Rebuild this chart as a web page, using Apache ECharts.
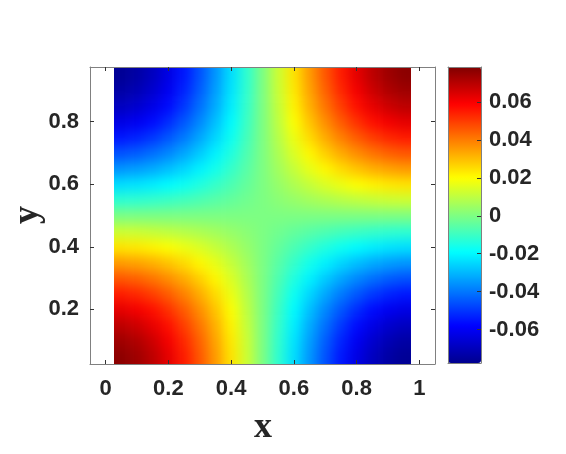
<!DOCTYPE html>
<html>
<head>
<meta charset="utf-8">
<script src="https://cdn.jsdelivr.net/npm/echarts@6/dist/echarts.min.js"></script>
<style>
    html, body { margin: 0; padding: 0; background: #fff; }
    #wrap { position: relative; width: 566px; height: 454px; }
    #clip { position: absolute; overflow: hidden; }
    #heat { position: absolute; width: 566px; height: 454px; filter: blur(6px); }
    #chart { position: absolute; left: 0; top: 0; width: 566px; height: 454px; }
</style>
</head>
<body>
<div id="wrap">
    <div id="clip"><div id="heat"></div></div>
    <div id="chart"></div>
</div>
<script>
// cell centres (x and y), width of one cell
var xCenters = [0.05, 0.10, 0.15, 0.20, 0.25, 0.30, 0.35, 0.40, 0.45, 0.50, 0.55, 0.60, 0.65, 0.70, 0.75, 0.80, 0.85, 0.90, 0.95];
var yCenters = [0.05, 0.10, 0.15, 0.20, 0.25, 0.30, 0.35, 0.40, 0.45, 0.50, 0.55, 0.60, 0.65, 0.70, 0.75, 0.80, 0.85, 0.90, 0.95];
var cellSize = 0.05;

// field values, one row per y (bottom row first)
var z = [
    [ 0.0766,  0.0737,  0.0691,  0.0627,  0.0548,  0.0456,  0.0352,  0.0240,  0.0121, 0, -0.0121, -0.0240, -0.0352, -0.0456, -0.0548, -0.0627, -0.0691, -0.0737, -0.0766],
    [ 0.0737,  0.0710,  0.0665,  0.0604,  0.0528,  0.0439,  0.0339,  0.0231,  0.0117, 0, -0.0117, -0.0231, -0.0339, -0.0439, -0.0528, -0.0604, -0.0665, -0.0710, -0.0737],
    [ 0.0691,  0.0665,  0.0623,  0.0566,  0.0495,  0.0411,  0.0318,  0.0216,  0.0109, 0, -0.0109, -0.0216, -0.0318, -0.0411, -0.0495, -0.0566, -0.0623, -0.0665, -0.0691],
    [ 0.0627,  0.0604,  0.0566,  0.0514,  0.0449,  0.0373,  0.0288,  0.0196,  0.0099, 0, -0.0099, -0.0196, -0.0288, -0.0373, -0.0449, -0.0514, -0.0566, -0.0604, -0.0627],
    [ 0.0548,  0.0528,  0.0495,  0.0449,  0.0393,  0.0326,  0.0252,  0.0172,  0.0087, 0, -0.0087, -0.0172, -0.0252, -0.0326, -0.0393, -0.0449, -0.0495, -0.0528, -0.0548],
    [ 0.0456,  0.0439,  0.0411,  0.0373,  0.0326,  0.0271,  0.0210,  0.0143,  0.0072, 0, -0.0072, -0.0143, -0.0210, -0.0271, -0.0326, -0.0373, -0.0411, -0.0439, -0.0456],
    [ 0.0352,  0.0339,  0.0318,  0.0288,  0.0252,  0.0210,  0.0162,  0.0110,  0.0056, 0, -0.0056, -0.0110, -0.0162, -0.0210, -0.0252, -0.0288, -0.0318, -0.0339, -0.0352],
    [ 0.0240,  0.0231,  0.0216,  0.0196,  0.0172,  0.0143,  0.0110,  0.0075,  0.0038, 0, -0.0038, -0.0075, -0.0110, -0.0143, -0.0172, -0.0196, -0.0216, -0.0231, -0.0240],
    [ 0.0121,  0.0117,  0.0109,  0.0099,  0.0087,  0.0072,  0.0056,  0.0038,  0.0019, 0, -0.0019, -0.0038, -0.0056, -0.0072, -0.0087, -0.0099, -0.0109, -0.0117, -0.0121],
    [ 0, 0, 0, 0, 0, 0, 0, 0, 0, 0, 0, 0, 0, 0, 0, 0, 0, 0, 0],
    [-0.0121, -0.0117, -0.0109, -0.0099, -0.0087, -0.0072, -0.0056, -0.0038, -0.0019, 0,  0.0019,  0.0038,  0.0056,  0.0072,  0.0087,  0.0099,  0.0109,  0.0117,  0.0121],
    [-0.0240, -0.0231, -0.0216, -0.0196, -0.0172, -0.0143, -0.0110, -0.0075, -0.0038, 0,  0.0038,  0.0075,  0.0110,  0.0143,  0.0172,  0.0196,  0.0216,  0.0231,  0.0240],
    [-0.0352, -0.0339, -0.0318, -0.0288, -0.0252, -0.0210, -0.0162, -0.0110, -0.0056, 0,  0.0056,  0.0110,  0.0162,  0.0210,  0.0252,  0.0288,  0.0318,  0.0339,  0.0352],
    [-0.0456, -0.0439, -0.0411, -0.0373, -0.0326, -0.0271, -0.0210, -0.0143, -0.0072, 0,  0.0072,  0.0143,  0.0210,  0.0271,  0.0326,  0.0373,  0.0411,  0.0439,  0.0456],
    [-0.0548, -0.0528, -0.0495, -0.0449, -0.0393, -0.0326, -0.0252, -0.0172, -0.0087, 0,  0.0087,  0.0172,  0.0252,  0.0326,  0.0393,  0.0449,  0.0495,  0.0528,  0.0548],
    [-0.0627, -0.0604, -0.0566, -0.0514, -0.0449, -0.0373, -0.0288, -0.0196, -0.0099, 0,  0.0099,  0.0196,  0.0288,  0.0373,  0.0449,  0.0514,  0.0566,  0.0604,  0.0627],
    [-0.0691, -0.0665, -0.0623, -0.0566, -0.0495, -0.0411, -0.0318, -0.0216, -0.0109, 0,  0.0109,  0.0216,  0.0318,  0.0411,  0.0495,  0.0566,  0.0623,  0.0665,  0.0691],
    [-0.0737, -0.0710, -0.0665, -0.0604, -0.0528, -0.0439, -0.0339, -0.0231, -0.0117, 0,  0.0117,  0.0231,  0.0339,  0.0439,  0.0528,  0.0604,  0.0665,  0.0710,  0.0737],
    [-0.0766, -0.0737, -0.0691, -0.0627, -0.0548, -0.0456, -0.0352, -0.0240, -0.0121, 0,  0.0121,  0.0240,  0.0352,  0.0456,  0.0548,  0.0627,  0.0691,  0.0737,  0.0766]
];

var xTicks = [0, 0.2, 0.4, 0.6, 0.8, 1];
var yTicks = [0.2, 0.4, 0.6, 0.8];
var cbTicks = [-0.06, -0.04, -0.02, 0, 0.02, 0.04, 0.06];
var cbRange = [-0.0776, 0.0784];

// jet, 9 evenly spaced stops
var jet = ['#00008f', '#0000ff', '#0080ff', '#00ffff', '#80ff80', '#ffff00', '#ff8000', '#ff0000', '#800000'];

var cells = [];
for (var j = 0; j < yCenters.length; j++) {
    for (var i = 0; i < xCenters.length; i++) {
        cells.push([xCenters[i], yCenters[j], z[j][i]]);
    }
}

var mainGrid = { left: 90, top: 67, width: 345, height: 297 };
var xRange = [-0.05, 1.05];
var yRange = [0.025, 0.975];

var labelFont = {
    fontFamily: 'Liberation Sans, Arial, sans-serif',
    fontWeight: 'bold',
    fontSize: 22,
    color: '#262626'
};
var frameLine = { show: true, onZero: false, lineStyle: { color: '#808080', width: 1 } };
var inTick = { inside: true, length: 4, lineStyle: { color: '#333' } };
var fmt = function (v) { return String(v); };

// cells along the outer edge get a margin so the smoothing blur doesn't fade at the border
var edgePad = 24;
function renderCell(params, api) {
    var cx = api.value(0), cy = api.value(1);
    var p0 = api.coord([cx - cellSize / 2, cy + cellSize / 2]);
    var p1 = api.coord([cx + cellSize / 2, cy - cellSize / 2]);
    var x0 = p0[0], y0 = p0[1], x1 = p1[0] + 0.6, y1 = p1[1] + 0.6;
    if (cx === xCenters[0]) x0 -= edgePad;
    if (cx === xCenters[xCenters.length - 1]) x1 += edgePad;
    if (cy === yCenters[0]) y1 += edgePad;
    if (cy === yCenters[yCenters.length - 1]) y0 -= edgePad;
    return {
        type: 'rect',
        shape: { x: x0, y: y0, width: x1 - x0, height: y1 - y0 },
        style: { fill: api.visual('color') }
    };
}

// heat layer (underneath, smoothed)
var heatChart = echarts.init(document.getElementById('heat'));
heatChart.setOption({
    animation: false,
    grid: mainGrid,
    xAxis: { type: 'value', min: xRange[0], max: xRange[1], show: false },
    yAxis: { type: 'value', min: yRange[0], max: yRange[1], show: false },
    visualMap: {
        type: 'continuous', show: false,
        min: cbRange[0], max: cbRange[1], dimension: 2,
        inRange: { color: jet }
    },
    series: [{
        type: 'custom',
        renderItem: renderCell,
        encode: { x: 0, y: 1 },
        data: cells
    }]
});

var tl = heatChart.convertToPixel({ gridIndex: 0 }, [xCenters[0] - cellSize / 2, yCenters[yCenters.length - 1] + cellSize / 2]);
var br = heatChart.convertToPixel({ gridIndex: 0 }, [xCenters[xCenters.length - 1] + cellSize / 2, yCenters[0] - cellSize / 2]);
var clip = document.getElementById('clip');
clip.style.left = tl[0] + 'px';
clip.style.top = tl[1] + 'px';
clip.style.width = (br[0] - tl[0]) + 'px';
clip.style.height = (br[1] - tl[1]) + 'px';
var heat = document.getElementById('heat');
heat.style.left = -tl[0] + 'px';
heat.style.top = -tl[1] + 'px';

// axes, frame, colorbar, labels (on top)
var myChart = echarts.init(document.getElementById('chart'));
myChart.setOption({
    backgroundColor: 'transparent',
    animation: false,
    grid: [
        mainGrid,
        { left: 448, top: 67, width: 33, height: 296 }
    ],
    xAxis: [
        {
            gridIndex: 0, type: 'value', position: 'bottom', min: xRange[0], max: xRange[1],
            axisLine: frameLine, splitLine: { show: false },
            axisTick: Object.assign({ customValues: xTicks }, inTick),
            axisLabel: Object.assign({ customValues: xTicks, margin: 14, formatter: fmt }, labelFont)
        },
        {
            gridIndex: 0, type: 'value', position: 'top', min: xRange[0], max: xRange[1],
            axisLine: frameLine, splitLine: { show: false },
            axisTick: Object.assign({ customValues: xTicks }, inTick),
            axisLabel: { show: false }
        },
        {
            gridIndex: 1, type: 'value', position: 'bottom', min: 0, max: 1, z: 10,
            axisLine: frameLine, splitLine: { show: false }, axisTick: { show: false }, axisLabel: { show: false }
        },
        {
            gridIndex: 1, type: 'value', position: 'top', min: 0, max: 1, z: 10,
            axisLine: frameLine, splitLine: { show: false }, axisTick: { show: false }, axisLabel: { show: false }
        }
    ],
    yAxis: [
        {
            gridIndex: 0, type: 'value', position: 'left', min: yRange[0], max: yRange[1],
            axisLine: frameLine, splitLine: { show: false },
            axisTick: Object.assign({ customValues: yTicks }, inTick),
            axisLabel: Object.assign({ customValues: yTicks, margin: 11, formatter: fmt }, labelFont)
        },
        {
            gridIndex: 0, type: 'value', position: 'right', min: yRange[0], max: yRange[1],
            axisLine: frameLine, splitLine: { show: false },
            axisTick: Object.assign({ customValues: yTicks }, inTick),
            axisLabel: { show: false }
        },
        {
            gridIndex: 1, type: 'value', position: 'right', min: cbRange[0], max: cbRange[1], z: 10,
            axisLine: frameLine, splitLine: { show: false },
            axisTick: Object.assign({ customValues: cbTicks }, inTick),
            axisLabel: Object.assign({ customValues: cbTicks, margin: 8, formatter: fmt }, labelFont)
        },
        {
            gridIndex: 1, type: 'value', position: 'left', min: cbRange[0], max: cbRange[1], z: 10,
            axisLine: frameLine, splitLine: { show: false }, axisTick: { show: false }, axisLabel: { show: false }
        }
    ],
    visualMap: {
        type: 'continuous',
        min: cbRange[0],
        max: cbRange[1],
        calculable: false,
        hoverLink: false,
        left: 448,
        top: 67,
        padding: 0,
        itemWidth: 33,
        itemHeight: 296,
        text: null,
        inRange: { color: jet }
    },
    graphic: [
        {
            type: 'text', x: 263, y: 428,
            style: { text: 'x', font: 'bold 36px "Liberation Serif", "Times New Roman", serif', fill: '#262626', align: 'center', verticalAlign: 'middle' }
        },
        {
            type: 'text', x: 28, y: 215, rotation: Math.PI / 2,
            style: { text: 'y', font: 'bold 36px "Liberation Serif", "Times New Roman", serif', fill: '#262626', align: 'center', verticalAlign: 'middle' }
        }
    ]
});
</script>
</body>
</html>
